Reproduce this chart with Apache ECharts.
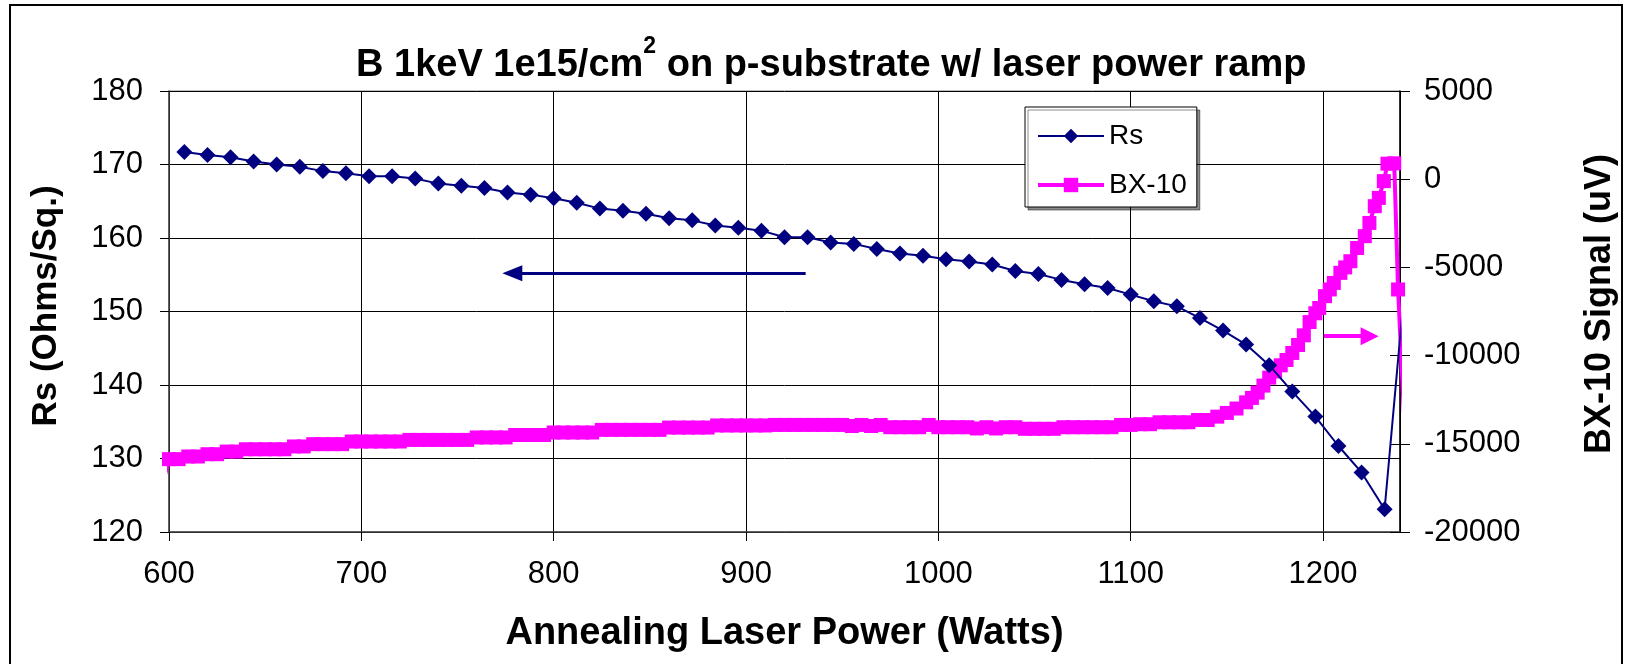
<!DOCTYPE html>
<html lang="en">
<head>
<meta charset="UTF-8">
<title>B 1keV 1e15/cm2 on p-substrate w/ laser power ramp</title>
<script src="https://cdn.jsdelivr.net/npm/echarts@6/dist/echarts.min.js"></script>
<style>
  html, body { margin: 0; padding: 0; background: #fff; }
  #chart { width: 1628px; height: 664px; }
</style>
</head>
<body>
<div id="chart"></div>
<script>
// axis ticks
const powerTicks = [600, 700, 800, 900, 1000, 1100, 1200];
const powerMax = 1240;
const rsTicks = [120, 130, 140, 150, 160, 170, 180];
const bxTicks = [-20000, -15000, -10000, -5000, 0, 5000];

// Rs, one diamond every 12 W (last point lies past the axis end)
const rsPower = [608, 620, 632, 644, 656, 668, 680, 692, 704, 716,
                 728, 740, 752, 764, 776, 788, 800, 812, 824, 836,
                 848, 860, 872, 884, 896, 908, 920, 932, 944, 956,
                 968, 980, 992, 1004, 1016, 1028, 1040, 1052, 1064, 1076,
                 1088, 1100, 1112, 1124, 1136, 1148, 1160, 1172, 1184, 1196,
                 1208, 1220, 1232, 1244];
const rsValues = [171.7, 171.3, 171.0, 170.4, 170.0, 169.7, 169.1, 168.8, 168.4, 168.4,
                  168.1, 167.4, 167.1, 166.8, 166.2, 165.9, 165.4, 164.8, 164.0, 163.7,
                  163.3, 162.7, 162.4, 161.7, 161.4, 161.0, 160.1, 160.1, 159.4, 159.2,
                  158.5, 157.9, 157.6, 157.1, 156.8, 156.4, 155.5, 155.1, 154.3, 153.7,
                  153.2, 152.3, 151.4, 150.7, 149.1, 147.4, 145.5, 142.7, 139.1, 135.7,
                  131.7, 128.1, 123.1, 158.0];

// BX-10 signal (uV)
const bxPower = [596.5, 600, 605, 610, 615, 620, 625, 630, 635, 640,
                 645, 650, 655, 660, 665, 670, 675, 680, 685, 690,
                 695, 700, 705, 710, 715, 720, 725, 730, 735, 740,
                 745, 750, 755, 760, 765, 770, 775, 780, 785, 790,
                 795, 800, 805, 810, 815, 820, 825, 830, 835, 840,
                 845, 850, 855, 860, 865, 870, 875, 880, 885, 890,
                 895, 900, 905, 910, 915, 920, 925, 930, 935, 940,
                 945, 950, 955, 960, 965, 970, 975, 980, 985, 990,
                 995, 1000, 1005, 1010, 1015, 1020, 1025, 1030, 1035, 1040,
                 1045, 1050, 1055, 1060, 1065, 1070, 1075, 1080, 1085, 1090,
                 1095, 1100, 1105, 1110, 1115, 1120, 1125, 1130, 1135, 1140,
                 1145, 1150, 1155, 1160, 1163, 1166, 1169, 1172, 1175, 1178,
                 1181, 1184, 1187, 1190, 1193, 1196, 1198, 1201, 1203.5, 1205.6,
                 1209, 1211.5, 1214.2, 1217.7, 1221.7, 1224.1, 1226.9, 1229, 1231.6, 1233.5,
                 1237, 1239, 1242.4, 1246.5];
const bxSignal = [-17350, -15870, -15870, -15720, -15720, -15590, -15590, -15440, -15440, -15310,
                  -15310, -15310, -15310, -15310, -15150, -15150, -15020, -15020, -15020, -15020,
                  -14870, -14870, -14870, -14870, -14870, -14870, -14780, -14780, -14780, -14780,
                  -14780, -14780, -14780, -14640, -14640, -14640, -14640, -14500, -14500, -14500,
                  -14500, -14360, -14360, -14360, -14360, -14360, -14210, -14210, -14210, -14210,
                  -14210, -14210, -14210, -14080, -14080, -14080, -14080, -14080, -13960, -13960,
                  -13960, -13960, -13960, -13960, -13930, -13930, -13930, -13930, -13930, -13930,
                  -13930, -13930, -13990, -13930, -13990, -13930, -14060, -14060, -14060, -14060,
                  -13930, -14060, -14060, -14060, -14060, -14130, -14060, -14130, -14060, -14060,
                  -14150, -14150, -14150, -14150, -14060, -14060, -14060, -14060, -14060, -14060,
                  -13930, -13930, -13890, -13890, -13780, -13780, -13780, -13780, -13650, -13650,
                  -13460, -13250, -13000, -12650, -12400, -12100, -11700, -11250, -10900, -10550,
                  -10250, -9850, -9400, -8850, -8100, -7600, -7300, -6630, -6250, -5880,
                  -5310, -5000, -4650, -3900, -3230, -2480, -1530, -1060, -110, 880,
                  900, -6250, -14100, -14100];

const FONT = "'Liberation Sans', Arial, sans-serif";
const xMin = powerTicks[0];

// points beyond the power axis keep their line but get no marker
function points(xs, ys) {
    return xs.map((x, i) => {
        const item = { value: [x, ys[i]] };
        if (x < xMin || x > powerMax) item.symbol = 'none';
        return item;
    });
}

const plain = v => String(v);

const chart = echarts.init(document.getElementById('chart'));
chart.setOption({
    animation: false,
    backgroundColor: '#fff',
    title: {
        text: '{n|B 1keV 1e15/cm}{sup|2}{n| on p-substrate w/ laser power ramp}',
        left: 351,
        top: 30,
        textStyle: {
            fontFamily: FONT, fontSize: 38, fontWeight: 'bold', color: '#000',
            rich: {
                n: { fontFamily: FONT, fontSize: 38, fontWeight: 'bold', color: '#000', lineHeight: 50, verticalAlign: 'bottom' },
                sup: { fontFamily: FONT, fontSize: 23, fontWeight: 'bold', color: '#000', lineHeight: 22, verticalAlign: 'top' }
            }
        }
    },
    legend: {
        orient: 'vertical',
        left: 1025,
        top: 107,
        data: [
            { name: 'Rs', lineStyle: { width: 2 } },
            { name: 'BX-10', lineStyle: { width: 4 } }
        ],
        itemWidth: 66,
        itemHeight: 18,
        itemGap: 19,
        padding: [14, 10, 7, 11],
        backgroundColor: '#fff',
        borderColor: '#000',
        borderWidth: 1,
        shadowColor: 'rgba(0,0,0,0.45)',
        shadowOffsetX: 3,
        shadowOffsetY: 3,
        textStyle: { fontFamily: FONT, fontSize: 28, color: '#000', lineHeight: 30 }
    },
    grid: {
        left: 169, top: 91, width: 1231, height: 441,
        show: true, borderColor: '#808080', borderWidth: 1,
        outerBoundsMode: 'none'
    },
    xAxis: {
        type: 'value',
        min: xMin,
        max: powerMax,
        interval: powerTicks[1] - powerTicks[0],
        name: 'Annealing Laser Power (Watts)',
        nameLocation: 'middle',
        nameGap: 83,
        nameTextStyle: { fontFamily: FONT, fontSize: 38, fontWeight: 'bold', color: '#000' },
        axisLine: { onZero: false, lineStyle: { color: '#404040', width: 1.5 } },
        axisTick: { length: 9, lineStyle: { color: '#000' } },
        axisLabel: { fontFamily: FONT, fontSize: 31, color: '#000', margin: 27, showMaxLabel: false, formatter: plain },
        splitLine: { show: true, lineStyle: { color: '#000', width: 1 } }
    },
    yAxis: [
        {
            type: 'value',
            position: 'left',
            min: rsTicks[0],
            max: rsTicks[rsTicks.length - 1],
            interval: rsTicks[1] - rsTicks[0],
            name: 'Rs (Ohms/Sq.)',
            nameLocation: 'middle',
            nameRotate: 90,
            nameGap: 105,
            nameTextStyle: { fontFamily: FONT, fontSize: 35, fontWeight: 'bold', color: '#000', padding: [0, 0, 0, 11] },
            axisLine: { show: true, onZero: false, lineStyle: { color: '#404040', width: 1.5 } },
            axisTick: { show: true, length: 9, lineStyle: { color: '#000' } },
            axisLabel: { fontFamily: FONT, fontSize: 31, color: '#000', margin: 26, formatter: plain },
            splitLine: { show: true, lineStyle: { color: '#000', width: 1 } }
        },
        {
            type: 'value',
            position: 'right',
            min: bxTicks[0],
            max: bxTicks[bxTicks.length - 1],
            interval: bxTicks[1] - bxTicks[0],
            name: 'BX-10 Signal (uV)',
            nameLocation: 'middle',
            nameRotate: 90,
            nameGap: 182,
            nameTextStyle: { fontFamily: FONT, fontSize: 36, fontWeight: 'bold', color: '#000', padding: [0, 0, 0, 15] },
            axisLine: { show: true, onZero: false, lineStyle: { color: '#000', width: 1.5 } },
            axisTick: { show: true, length: 10, lineStyle: { color: '#000' } },
            axisLabel: { fontFamily: FONT, fontSize: 31, color: '#000', margin: 24, formatter: plain },
            splitLine: { show: false }
        },
        {
            // inner half of the right-hand cross ticks
            type: 'value',
            position: 'right',
            offset: 0,
            min: bxTicks[0],
            max: bxTicks[bxTicks.length - 1],
            interval: bxTicks[1] - bxTicks[0],
            axisLine: { show: false, onZero: false },
            axisTick: { show: true, inside: true, length: 10, lineStyle: { color: '#000' } },
            axisLabel: { show: false },
            splitLine: { show: false }
        }
    ],
    graphic: [{
        type: 'rect',
        silent: true,
        shape: { x: 10, y: 5, width: 1612, height: 700 },
        style: { fill: 'none', stroke: '#000', lineWidth: 2 }
    }],
    series: [
        {
            name: 'Rs',
            type: 'line',
            yAxisIndex: 0,
            data: points(rsPower, rsValues),
            symbol: 'diamond',
            symbolSize: 16,
            clip: false,
            z: 3,
            lineStyle: { color: '#000080', width: 2 },
            itemStyle: { color: '#000080' },
            markLine: {
                silent: true,
                symbol: ['none', 'triangle'],
                symbolSize: [16, 20],
                label: { show: false },
                lineStyle: { color: '#000080', width: 3, type: 'solid' },
                data: [[{ coord: [931, 155.2] }, { coord: [778.5, 155.2] }]]
            }
        },
        {
            name: 'BX-10',
            type: 'line',
            yAxisIndex: 1,
            data: points(bxPower, bxSignal),
            symbol: 'rect',
            symbolSize: 14,
            clip: false,
            z: 2,
            lineStyle: { color: '#FF00FF', width: 4 },
            itemStyle: { color: '#FF00FF' },
            markLine: {
                silent: true,
                symbol: ['none', 'triangle'],
                symbolSize: [18, 18],
                label: { show: false },
                lineStyle: { color: '#FF00FF', width: 4, type: 'solid' },
                data: [[{ coord: [1200.4, -8900] }, { coord: [1224.2, -8900] }]]
            }
        }
    ]
});
</script>
</body>
</html>
